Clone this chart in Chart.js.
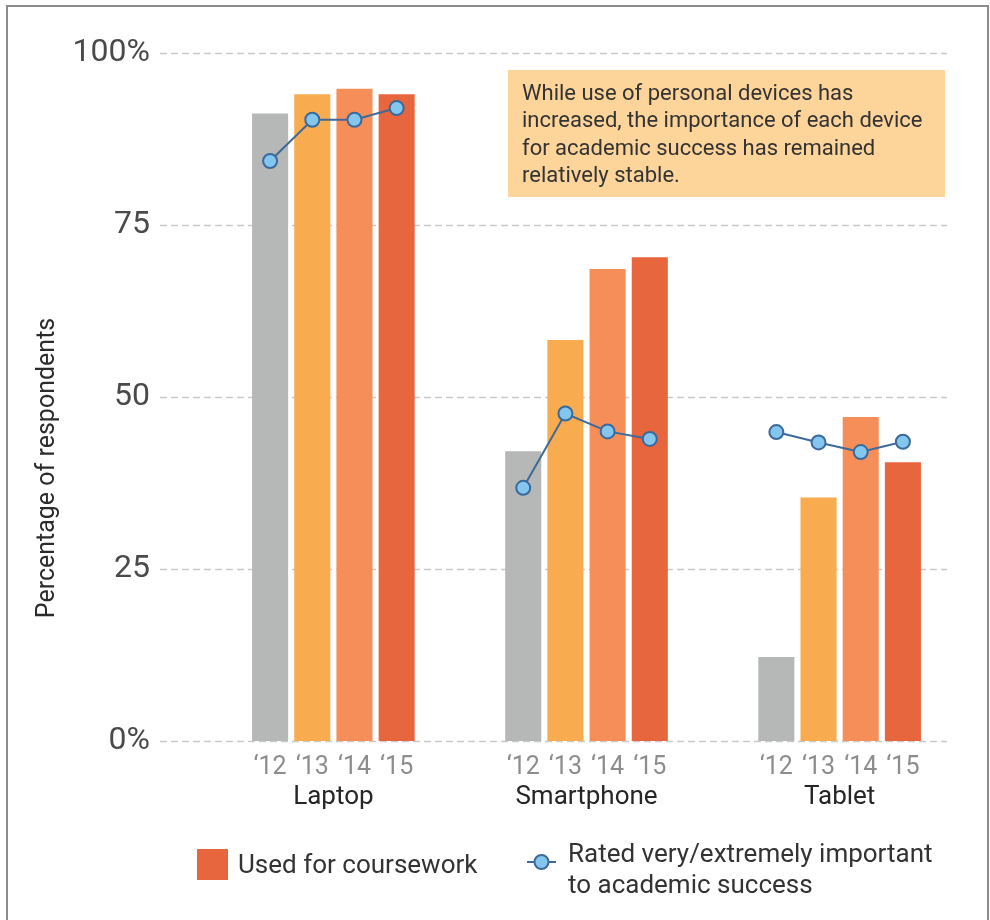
<!DOCTYPE html>
<html>
<head>
<meta charset="utf-8">
<title>Device use for coursework</title>
<script src="https://cdn.jsdelivr.net/npm/chart.js@4.4.1/dist/chart.umd.min.js"></script>
<style>
  body { margin: 0; background: #fff; }
  .wrap { position: relative; width: 990px; height: 920px; }
  .frame {
    position: absolute; left: 6px; top: 5px; width: 979px; height: 920px;
    border: 2px solid #8c8c8c; border-bottom: none;
  }
  canvas { position: absolute; left: 0; top: 0; }
</style>
</head>
<body>
<div class="wrap">
  <div class="frame"></div>
  <canvas id="myChart" width="990" height="920"></canvas>
</div>
<script>
// devices and survey years
const groups = ["Laptop", "Smartphone", "Tablet"];
const years = ["\u201812", "\u201813", "\u201814", "\u201815"];

// % used for coursework ('12..'15)
const laptopUsed = [91.2, 94.0, 94.8, 94.0];
const smartphoneUsed = [42.1, 58.3, 68.6, 70.3];
const tabletUsed = [12.2, 35.4, 47.1, 40.5];

// % rating the device very/extremely important to academic success
const laptopRated = [84.3, 90.3, 90.3, 92.0];
const smartphoneRated = [36.8, 47.6, 45.0, 43.9];
const tabletRated = [44.9, 43.4, 42.0, 43.5];

const yTicks = [0, 25, 50, 75, 100];
const yearColors = ["#b5b8b6", "#f8ab4f", "#f58e59", "#e8663d"];

const noteLines = [
  "While use of personal devices has",
  "increased, the importance of each device",
  "for academic success has remained",
  "relatively stable.",
];

const FONT = "Roboto, 'DejaVu Sans', sans-serif";

// flatten into one category axis, two empty slots between devices
const usedByGroup = [laptopUsed, smartphoneUsed, tabletUsed];
const ratedByGroup = [laptopRated, smartphoneRated, tabletRated];
let labels = [];
let barValues = [];
let barColors = [];
let lineValues = [];
let groupSlots = [];

for (let g = 0; g < groups.length; g++) {
  const start = labels.length;
  for (let i = 0; i < years.length; i++) {
    labels.push(years[i]);
    barValues.push(usedByGroup[g][i]);
    barColors.push(yearColors[i]);
    lineValues.push(ratedByGroup[g][i]);
  }
  groupSlots.push([start, labels.length - 1]);
  if (g < groups.length - 1) {
    for (let k = 0; k < 2; k++) {
      labels.push("");
      barValues.push(null);
      barColors.push("rgba(0,0,0,0)");
      lineValues.push(null);
    }
  }
}

// dashed horizontal guides, running a bit past the plot on both sides
const guides = {
  id: "guides",
  beforeDatasetsDraw(chart) {
    const { ctx, scales } = chart;
    ctx.save();
    ctx.strokeStyle = "#c9c9c9";
    ctx.lineWidth = 1.5;
    ctx.setLineDash([7, 4]);
    yTicks.forEach((v) => {
      const y = Math.round(scales.y.getPixelForValue(v)) + 0.5;
      ctx.beginPath();
      ctx.moveTo(160, y);
      ctx.lineTo(947, y);
      ctx.stroke();
    });
    ctx.restore();
  },
};

// device names, axis title, note box and legend
const extras = {
  id: "extras",
  afterDraw(chart) {
    const { ctx, scales } = chart;
    ctx.save();

    // device names under the year labels
    ctx.fillStyle = "#262626";
    ctx.font = `26px ${FONT}`;
    ctx.textAlign = "center";
    ctx.textBaseline = "middle";
    groupSlots.forEach(([a, b], g) => {
      const x = (scales.x.getPixelForValue(a) + scales.x.getPixelForValue(b)) / 2;
      ctx.fillText(groups[g], x, 797);
    });

    // y axis title
    ctx.save();
    ctx.translate(48, 468);
    ctx.rotate(-Math.PI / 2);
    ctx.font = `25px ${FONT}`;
    ctx.fillStyle = "#2b2b2b";
    ctx.fillText("Percentage of respondents", 0, 0);
    ctx.restore();

    // note box
    ctx.fillStyle = "#fdd49a";
    ctx.fillRect(508, 70, 437, 127);
    ctx.fillStyle = "#333";
    ctx.font = `22px ${FONT}`;
    ctx.textAlign = "left";
    noteLines.forEach((line, i) => {
      ctx.fillText(line, 522, 94 + i * 27.5);
    });

    // legend
    ctx.fillStyle = yearColors[3];
    ctx.fillRect(197, 849, 31, 31);
    ctx.fillStyle = "#333";
    ctx.font = `26px ${FONT}`;
    ctx.fillText("Used for coursework", 238, 866);

    ctx.strokeStyle = "#3d6a99";
    ctx.lineWidth = 2;
    ctx.beginPath();
    ctx.moveTo(527, 862);
    ctx.lineTo(556, 862);
    ctx.stroke();
    ctx.beginPath();
    ctx.arc(541.5, 862, 7, 0, Math.PI * 2);
    ctx.fillStyle = "#85c6ee";
    ctx.fill();
    ctx.stroke();

    ctx.fillStyle = "#333";
    ctx.fillText("Rated very/extremely important", 568, 855);
    ctx.fillText("to academic success", 568, 886);

    ctx.restore();
  },
};

const ctx = document.getElementById("myChart");

const myChart = new Chart(ctx, {
  data: {
    labels: labels,
    datasets: [
      {
        type: "line",
        label: "Rated very/extremely important to academic success",
        data: lineValues,
        order: 0,
        spanGaps: false,
        borderColor: "#3d6a99",
        borderWidth: 2,
        pointRadius: 7,
        pointBorderWidth: 2,
        pointBackgroundColor: "#85c6ee",
        pointBorderColor: "#3a6a9c",
        tension: 0,
      },
      {
        type: "bar",
        label: "Used for coursework",
        data: barValues,
        order: 1,
        backgroundColor: barColors,
        barPercentage: 0.855,
        categoryPercentage: 1,
      },
    ],
  },
  options: {
    responsive: false,
    animation: false,
    layout: {
      padding: { top: 53, right: 66, bottom: 0, left: 0 },
    },
    plugins: {
      legend: { display: false },
      tooltip: { enabled: false },
    },
    scales: {
      x: {
        grid: { display: false },
        border: { display: false },
        ticks: {
          autoSkip: false,
          maxRotation: 0,
          padding: 4,
          color: "#8d8d8d",
          font: { family: FONT, size: 25 },
        },
        afterFit(scale) {
          scale.height = 179;
        },
      },
      y: {
        min: 0,
        max: 100,
        grid: { display: false, drawTicks: false },
        border: { display: false },
        ticks: {
          stepSize: 25,
          padding: 99,
          color: "#4a4a4a",
          font: { family: FONT, size: 32 },
          callback: (v) => (v === 0 || v === 100 ? v + "%" : v),
        },
        afterFit(scale) {
          // wide gutter for the labels, but no extra vertical padding
          scale.width = 249;
          scale.paddingTop = 0;
          scale.paddingBottom = 0;
        },
      },
    },
  },
  plugins: [guides, extras],
});
</script>
</body>
</html>
